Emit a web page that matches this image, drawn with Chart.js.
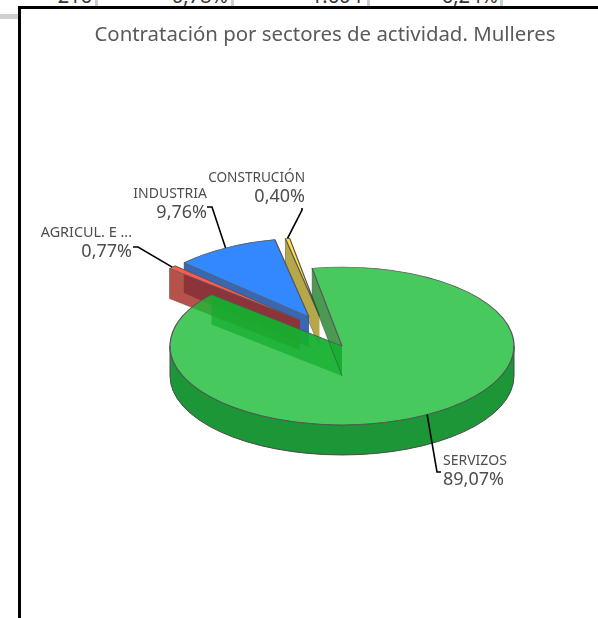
<!DOCTYPE html>
<html>
<head>
<meta charset="utf-8">
<style>
  html, body { margin: 0; padding: 0; background: #fff; overflow: hidden; }
  body { width: 598px; height: 618px; position: relative; font-family: "Noto Sans", sans-serif; }
  .cell { position: absolute; top: -18px; font-size: 20px; line-height: 28px; color: #333; text-align: right; white-space: nowrap; }
  .sep { position: absolute; top: 0; width: 3px; height: 7px; background: #ccc; }
  .rule { position: absolute; left: 0; top: 14px; width: 19px; height: 5px; background: #d0d0d0; }
  #frame { position: absolute; left: 18px; top: 6px; width: 590px; height: 622px; background: #fff;
           border-left: 3px solid #000; border-top: 3px solid #000; }
  canvas { position: absolute; left: -21px; top: -9px; }
</style>
</head>
<body>
<div class="cell" style="left:40px;width:52px">-216</div>
<div class="sep" style="left:95px"></div>
<div class="cell" style="left:140px;width:88px">-0,78%</div>
<div class="sep" style="left:231px"></div>
<div class="cell" style="left:300px;width:62px">1.604</div>
<div class="sep" style="left:367px"></div>
<div class="cell" style="left:420px;width:78px">6,24%</div>
<div class="sep" style="left:500px"></div>
<div class="rule"></div>
<div id="frame"><canvas id="chart" width="598" height="618"></canvas></div>
<script src="https://cdn.jsdelivr.net/npm/chart.js@4"></script>
<script>
const titleText = 'Contratación por sectores de actividad. Mulleres';
const categories = ['SERVIZOS', 'AGRICUL. E ...', 'INDUSTRIA', 'CONSTRUCIÓN'];
const shares = [89.07, 0.77, 9.76, 0.40];

const topColors = ['rgba(25,187,54,0.8)', '#ff5b4d', '#3388ff', '#ffe040'];
const wallColors = ['rgba(0,110,11,0.7)', 'rgba(162,40,29,0.8)', 'rgba(40,90,170,0.92)', 'rgba(176,159,57,0.92)'];
const sideColor = '#1c9636';

// how far each slice is pulled out, in page pixels
const pullX = [0, -42, -33, -22.5];
const pullY = [0, -26, -29, -30];

// label text anchor and the elbow of its leader line
const labelBoxes = [
  { x: 443, y: 461, align: 'left', font: 14, elbow: [[437, 472], [441, 472]] },
  { x: 132, y: 233, align: 'right', font: 14.4, elbow: [[138, 247], [133, 247]] },
  { x: 207, y: 194, align: 'right', font: 14, elbow: [[212, 207], [207, 207]] },
  { x: 305, y: 178, align: 'right', font: 13.6, elbow: [[302, 210], [302, 208]] }
];

const squash = 0.459;
const depth = 30;
const pieCenter = { x: 342, y: 346 };

function fmt(v) { return v.toFixed(2).replace('.', ',') + '%'; }

// point on the top face of slice i, at a given angle and radius
function project(i, angle, radius) {
  return [
    pieCenter.x + pullX[i] + Math.cos(angle) * radius,
    pieCenter.y + pullY[i] + Math.sin(angle) * radius * squash
  ];
}

const pie3d = {
  id: 'pie3d',
  beforeDatasetDraw(chart) {
    const ctx = chart.ctx;
    const arcs = chart.getDatasetMeta(0).data;
    const wall = (a, i, angle) => {
      const p0 = project(i, angle, 0);
      const p1 = project(i, angle, a.outerRadius);
      ctx.beginPath();
      ctx.moveTo(p0[0], p0[1]);
      ctx.lineTo(p1[0], p1[1]);
      ctx.lineTo(p1[0], p1[1] + depth);
      ctx.lineTo(p0[0], p0[1] + depth);
      ctx.closePath();
      ctx.fillStyle = wallColors[i];
      ctx.fill();
    };
    const wallEdge = (a, i, angle) => {
      const p0 = project(i, angle, 0);
      const p1 = project(i, angle, a.outerRadius);
      ctx.beginPath();
      ctx.moveTo(p0[0], p0[1] + depth);
      ctx.lineTo(p1[0], p1[1] + depth);
      ctx.lineTo(p1[0], p1[1]);
      ctx.strokeStyle = 'rgba(60,60,60,0.55)';
      ctx.lineWidth = 0.8;
      ctx.stroke();
    };
    const outerBand = (a, i) => {
      // only the part of the rim facing the viewer
      const k = Math.ceil(a.startAngle / (2 * Math.PI));
      const start = Math.max(a.startAngle, 2 * Math.PI * k);
      const end = Math.min(a.endAngle, 2 * Math.PI * k + Math.PI);
      if (end <= start) return;
      const ox = pieCenter.x + pullX[i];
      const oy = pieCenter.y + pullY[i];
      const r = a.outerRadius;
      ctx.beginPath();
      ctx.ellipse(ox, oy, r, r * squash, 0, start, end);
      ctx.ellipse(ox, oy + depth, r, r * squash, 0, end, start, true);
      ctx.closePath();
      ctx.fillStyle = sideColor;
      ctx.fill();
      ctx.strokeStyle = '#4a4a4a';
      ctx.lineWidth = 1;
      ctx.stroke();
    };
    // back to front, servizos last
    [3, 2, 1, 0].forEach(i => {
      const a = arcs[i];
      wall(a, i, a.startAngle);
      if (i === 0) wall(a, i, a.endAngle);
      outerBand(a, i);
      if (i !== 0) wallEdge(a, i, a.startAngle);
      ctx.save();
      ctx.translate(pieCenter.x + pullX[i], pieCenter.y + pullY[i]);
      ctx.scale(1, squash);
      ctx.translate(-a.x, -a.y);
      a.draw(ctx);
      ctx.restore();
      if (i === 0) wallEdge(a, i, a.startAngle);
    });
    return false;
  },
  afterDraw(chart) {
    const ctx = chart.ctx;
    const arcs = chart.getDatasetMeta(0).data;
    ctx.save();
    categories.forEach((name, i) => {
      const b = labelBoxes[i];
      const a = arcs[i];
      const start = project(i, (a.startAngle + a.endAngle) / 2, a.outerRadius);
      ctx.beginPath();
      ctx.moveTo(start[0], start[1]);
      b.elbow.forEach(p => ctx.lineTo(p[0], p[1]));
      ctx.strokeStyle = '#000';
      ctx.lineWidth = 1.6;
      ctx.stroke();

      ctx.textAlign = b.align;
      ctx.textBaseline = 'middle';
      ctx.fillStyle = '#4d4d4d';
      ctx.font = b.font + 'px "Noto Sans", sans-serif';
      ctx.fillText(name, b.x, b.y);
      ctx.font = '18px "Noto Sans", sans-serif';
      ctx.fillText(fmt(shares[i]), b.x, b.y + 19);
    });
    ctx.restore();
  }
};

new Chart(document.getElementById('chart'), {
  type: 'pie',
  plugins: [pie3d],
  data: {
    labels: categories,
    datasets: [{
      data: shares,
      backgroundColor: topColors,
      borderColor: '#555',
      borderWidth: 1.3
    }]
  },
  options: {
    responsive: false,
    animation: false,
    rotation: 350,
    radius: 172,
    layout: { padding: { left: 52, top: 0 } },
    plugins: {
      legend: { display: false },
      tooltip: { enabled: false },
      title: {
        display: true,
        text: titleText,
        color: '#5a5a5a',
        font: { family: '"Noto Sans", sans-serif', size: 20.4, weight: 'normal' },
        padding: { top: 23, bottom: 0 }
      }
    }
  }
});
</script>
</body>
</html>
